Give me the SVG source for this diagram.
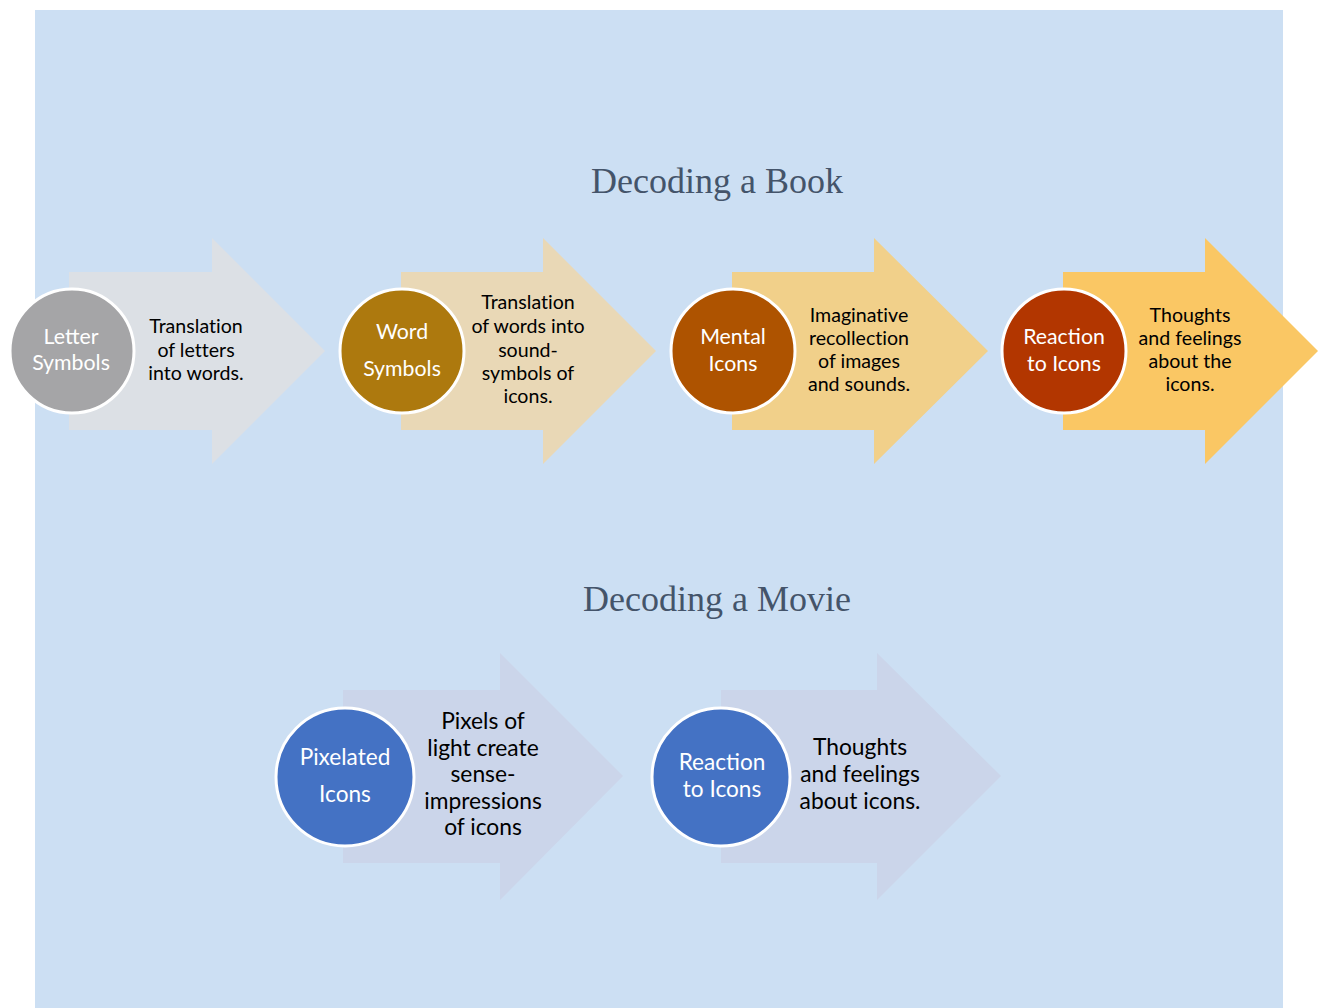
<svg xmlns="http://www.w3.org/2000/svg" width="1323" height="1008" viewBox="0 0 1323 1008">
<style>
.title{font-family:"Liberation Serif","Times New Roman",serif;font-size:36px;fill:#44546A;text-anchor:middle}
.desc{font-family:Lato,"Liberation Sans",sans-serif;font-size:19.6px;fill:#000;text-anchor:middle;font-variant-ligatures:none}
.desc2{font-family:Lato,"Liberation Sans",sans-serif;font-size:22.8px;fill:#000;text-anchor:middle;font-variant-ligatures:none}
.ctext{font-family:Lato,"Liberation Sans",sans-serif;font-size:21.3px;fill:#fff;text-anchor:middle}
.ctext2{font-family:Lato,"Liberation Sans",sans-serif;font-size:22.6px;fill:#fff;text-anchor:middle}
.circ{stroke:#fff;stroke-width:3}
</style>
<rect x="0" y="0" width="1323" height="1008" fill="#fff"/>
<rect x="35" y="10" width="1248" height="998" fill="#CCDFF3"/>
<text class="title" x="717" y="193">Decoding a Book</text>
<text class="title" x="717" y="611">Decoding a Movie</text>

<g id="arrow-book-1">
<polygon points="69,272 212,272 212,238 325,351 212,464 212,430 69,430" fill="#DCE0E5"/>
<text class="desc"><tspan x="196" y="333">Translation</tspan><tspan x="196" y="357">of letters</tspan><tspan x="196" y="380">into words.</tspan></text>
</g>
<g id="arrow-book-2">
<polygon points="401,272 543,272 543,238 656,351 543,464 543,430 401,430" fill="#E9D8B6"/>
<text class="desc"><tspan x="528" y="309">Translation</tspan><tspan x="528" y="333">of words into</tspan><tspan x="528" y="357">sound-</tspan><tspan x="528" y="380">symbols of</tspan><tspan x="528" y="403">icons.</tspan></text>
</g>
<g id="arrow-book-3">
<polygon points="732,272 874,272 874,238 988,351 874,464 874,430 732,430" fill="#F1D08A"/>
<text class="desc"><tspan x="859" y="322">Imaginative</tspan><tspan x="859" y="345">recollection</tspan><tspan x="859" y="368">of images</tspan><tspan x="859" y="391">and sounds.</tspan></text>
</g>
<g id="arrow-book-4">
<polygon points="1063,272 1205,272 1205,238 1318,351 1205,464 1205,430 1063,430" fill="#FAC764"/>
<text class="desc"><tspan x="1190" y="322">Thoughts</tspan><tspan x="1190" y="345">and feelings</tspan><tspan x="1190" y="368">about the</tspan><tspan x="1190" y="391">icons.</tspan></text>
</g>

<g id="node-letter-symbols">
<circle class="circ" cx="72" cy="351" r="62" fill="#A5A5A7"/>
<text class="ctext"><tspan x="71" y="344">Letter</tspan><tspan x="71" y="370">Symbols</tspan></text>
</g>
<g id="node-word-symbols">
<circle class="circ" cx="402" cy="351" r="62" fill="#AD790E"/>
<text class="ctext"><tspan x="402" y="339">Word</tspan><tspan x="402" y="376">Symbols</tspan></text>
</g>
<g id="node-mental-icons">
<circle class="circ" cx="733" cy="351" r="62" fill="#AE5300"/>
<text class="ctext"><tspan x="733" y="344">Mental</tspan><tspan x="733" y="371">Icons</tspan></text>
</g>
<g id="node-reaction-book">
<circle class="circ" cx="1064" cy="351" r="62" fill="#B23600"/>
<text class="ctext"><tspan x="1064" y="344">Reaction</tspan><tspan x="1064" y="371">to Icons</tspan></text>
</g>

<g id="arrow-movie-1">
<polygon points="343,690 500,690 500,653 623,776 500,900 500,863 343,863" fill="#CBD5EA"/>
<text class="desc2"><tspan x="483" y="729">Pixels of</tspan><tspan x="483" y="756">light create</tspan><tspan x="483" y="782">sense-</tspan><tspan x="483" y="809">impressions</tspan><tspan x="483" y="835">of icons</tspan></text>
</g>
<g id="arrow-movie-2">
<polygon points="721,690 877,690 877,653 1001,776 877,900 877,863 721,863" fill="#CBD5EA"/>
<text class="desc2"><tspan x="860" y="755">Thoughts</tspan><tspan x="860" y="782">and feelings</tspan><tspan x="860" y="809">about icons.</tspan></text>
</g>

<g id="node-pixelated-icons">
<circle class="circ" cx="345" cy="777" r="69" fill="#4472C4"/>
<text class="ctext2"><tspan x="345" y="765">Pixelated</tspan><tspan x="345" y="802">Icons</tspan></text>
</g>
<g id="node-reaction-movie">
<circle class="circ" cx="721" cy="777" r="69" fill="#4472C4"/>
<text class="ctext2"><tspan x="722" y="770">Reaction</tspan><tspan x="722" y="797">to Icons</tspan></text>
</g>
</svg>
